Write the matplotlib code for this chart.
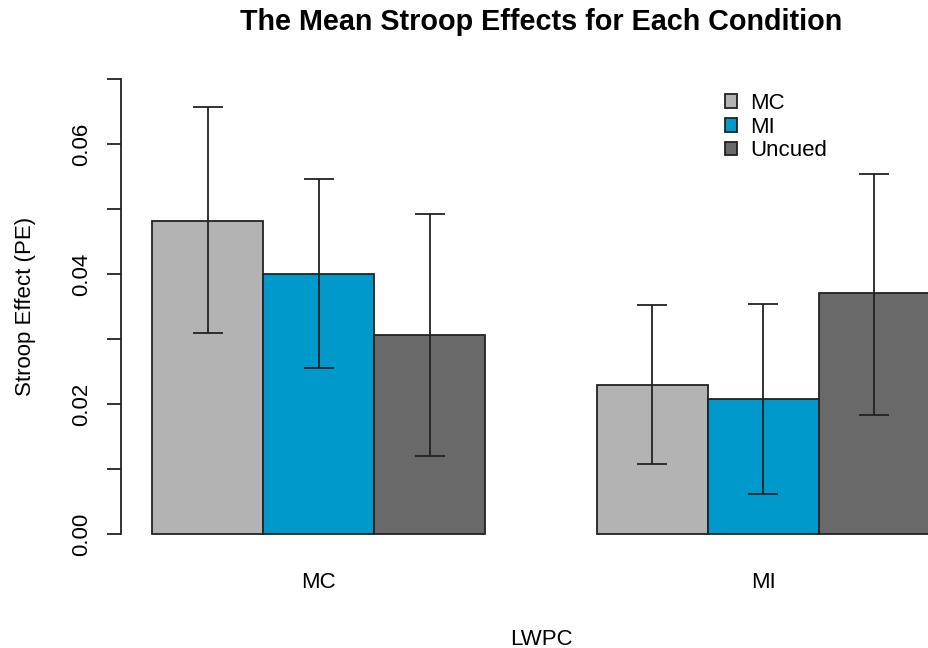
import numpy as np
import matplotlib
matplotlib.use('Agg')
import matplotlib.pyplot as plt
from matplotlib.patches import Patch

plt.rcParams['font.family'] = ['Liberation Sans', 'DejaVu Sans']

# LWPC groups on the x axis, cue conditions inside each group
groups = ['MC', 'MI']
conditions = ['MC', 'MI', 'Uncued']
colors = ['#B3B3B3', '#0099CC', '#696969']

# mean Stroop effect (PE), rows = cue condition, cols = LWPC group
means = {
    'MC': [0.0481, 0.0229],
    'MI': [0.0400, 0.0207],
    'Uncued': [0.0306, 0.0370],
}
# error bar ends
upper = {
    'MC': [0.0657, 0.0352],
    'MI': [0.0546, 0.0354],
    'Uncued': [0.0493, 0.0554],
}
lower = {
    'MC': [0.0309, 0.0108],
    'MI': [0.0256, 0.0061],
    'Uncued': [0.0120, 0.0183],
}

W, H = 929, 648
fig = plt.figure(figsize=(W / 100, H / 100), dpi=100)
# plot region is wider than the picture (right side clipped, like the original)
left, right = 121 / W, 961 / W
bottom, top = 1 - 552.2 / H, 1 - 60.8 / H
ax = fig.add_axes([left, bottom, right - left, top - bottom])

n = len(conditions)
for j, g in enumerate(groups):
    start = 1 + j * (n + 1)
    for i, c in enumerate(conditions):
        x = start + i + 0.5
        m = means[c][j]
        ax.bar(x, m, width=1.0, color=colors[i], edgecolor='#222222',
               linewidth=1.3, zorder=2)
        ax.errorbar(x, m, yerr=[[m - lower[c][j]], [upper[c][j] - m]],
                    fmt='none', ecolor='#222222', elinewidth=1.3,
                    capsize=11, capthick=1.3, zorder=3)

ax.set_xlim(0.72, 8.28)
ax.set_ylim(-0.0028, 0.0728)

for s in ['top', 'right', 'bottom']:
    ax.spines[s].set_visible(False)
ax.spines['left'].set_bounds(0, 0.07)
ax.spines['left'].set_linewidth(1.3)
ax.spines['left'].set_color('#222222')

yt = np.arange(0, 0.0701, 0.01)
ax.set_yticks(yt)
ax.set_yticklabels(['%.2f' % v if k % 2 == 0 else '' for k, v in enumerate(yt)],
                   rotation=90, va='center', fontsize=16)
ax.tick_params(axis='y', length=10, width=1.3, color='#222222', pad=11)

centers = [1 + j * (n + 1) + n / 2 for j in range(len(groups))]
ax.set_xticks(centers)
ax.set_xticklabels(groups, fontsize=16)
ax.tick_params(axis='x', length=0, pad=14)

ax.set_xlabel('LWPC', fontsize=16, labelpad=26)
ax.set_ylabel('Stroop Effect (PE)', fontsize=16, labelpad=25)

fig.text((121 + 961) / 2 / W, 1 - 22 / H,
         'The Mean Stroop Effects for Each Condition',
         ha='center', va='center', fontsize=20.7, fontweight='bold')

handles = [Patch(facecolor=col, edgecolor='#222222', linewidth=1.3) for col in colors]
ax.legend(handles, conditions, loc='upper left', frameon=False, fontsize=16,
          bbox_to_anchor=(725 / W, 1 - 93 / H), bbox_transform=fig.transFigure,
          handlelength=0.55, handleheight=0.55, handletextpad=0.6,
          labelspacing=0.12, borderpad=0, borderaxespad=0)

fig.savefig('out.png', dpi=100)
